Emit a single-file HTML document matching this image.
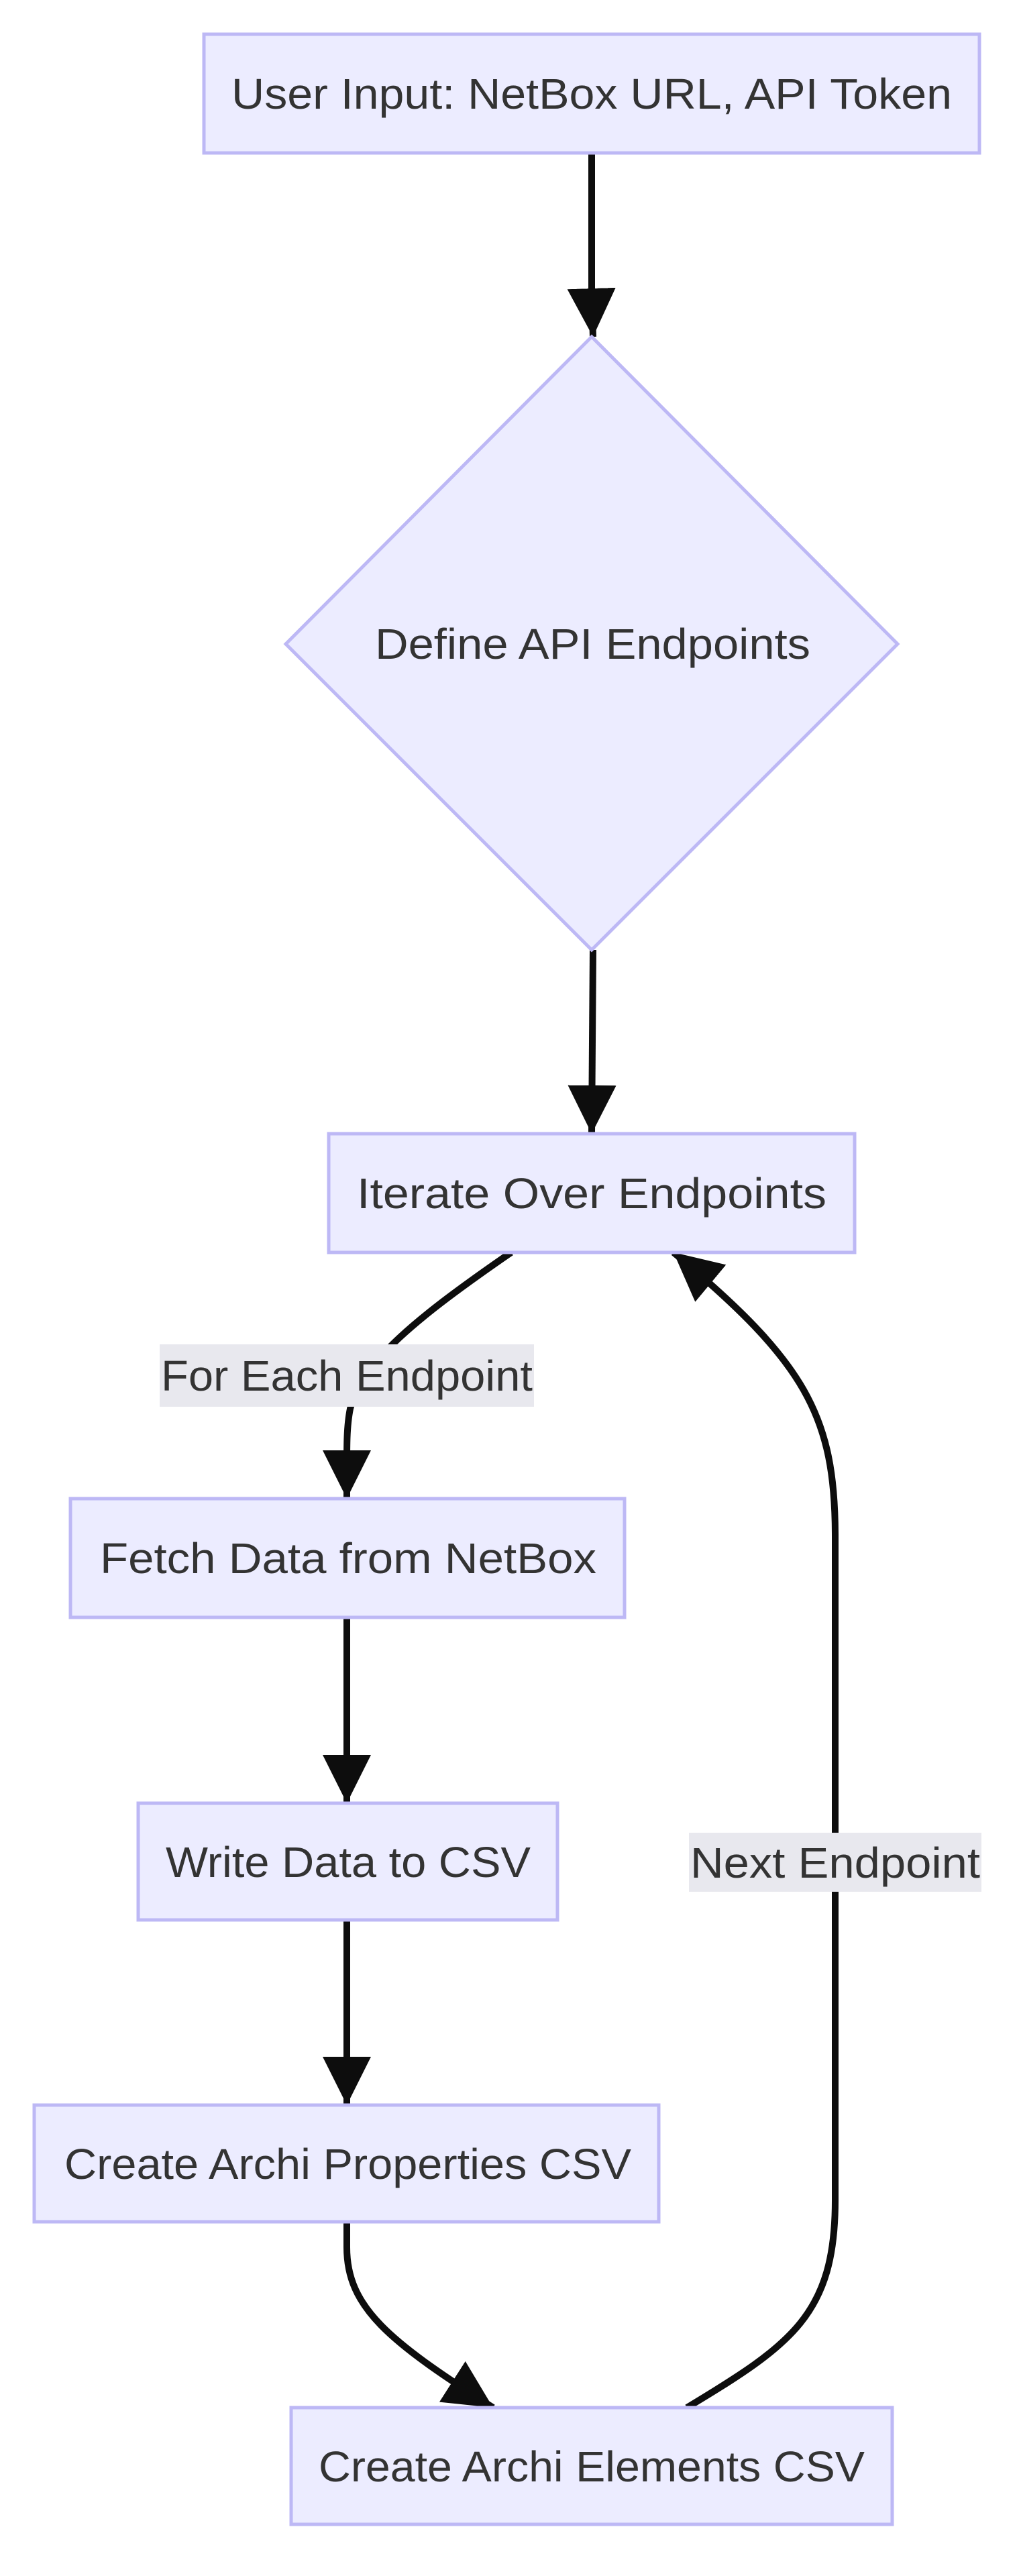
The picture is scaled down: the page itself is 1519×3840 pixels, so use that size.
<!DOCTYPE html>
<html><head><meta charset="utf-8"><style>
html,body{margin:0;padding:0;background:#fff;}
svg{display:block;}
text{font-family:"Liberation Sans",sans-serif;font-size:64px;fill:#333;}
</style></head><body>
<svg width="1519" height="3840" viewBox="0 0 1519 3840" xmlns="http://www.w3.org/2000/svg">
<defs>
<marker id="a" markerUnits="userSpaceOnUse" markerWidth="72" markerHeight="72" viewBox="0 0 10 10" refX="10" refY="5" orient="auto">
<path d="M0,0 L10,5 L0,10 z" fill="#0d0d0d"/>
</marker>
</defs>
<g fill="none" stroke="#0d0d0d" stroke-width="10">
<path d="M882,228 L882,440 L884,502" marker-end="url(#a)"/>
<path d="M884,1416 L882,1690" marker-end="url(#a)"/>
<path d="M762,1867 C620,1965 540,2030 522,2100 C516,2130 517,2160 517,2234" marker-end="url(#a)"/>
<path d="M517,2411 L517,2688" marker-end="url(#a)"/>
<path d="M517,2862 L517,3138" marker-end="url(#a)"/>
<path d="M517,3312 L517,3350 C517,3440 580,3490 735,3589" marker-end="url(#a)"/>
<path d="M1024,3589 C1180,3495 1245,3450 1245,3280 L1245,2290 C1245,2110 1200,2030 1004,1867" marker-end="url(#a)"/>
</g>
<g fill="#ececff" stroke="#bdb8f5" stroke-width="5">
<rect x="304" y="51" width="1156" height="177"/>
<polygon points="882,502 1338,960 882,1416 426,960"/>
<rect x="490" y="1690" width="784" height="177"/>
<rect x="105" y="2234" width="826" height="177"/>
<rect x="206" y="2688" width="625" height="174"/>
<rect x="51" y="3138" width="931" height="174"/>
<rect x="434" y="3589" width="896" height="174"/>
</g>
<rect x="238" y="2004" width="558" height="93" fill="#e8e8ee"/>
<rect x="1027" y="2732" width="436" height="88" fill="#e8e8ee"/>
<g dominant-baseline="central">
<text x="345" y="140" textLength="1074" lengthAdjust="spacingAndGlyphs">User Input: NetBox URL, API Token</text>
<text x="559" y="960" textLength="649" lengthAdjust="spacingAndGlyphs">Define API Endpoints</text>
<text x="532" y="1779" textLength="700" lengthAdjust="spacingAndGlyphs">Iterate Over Endpoints</text>
<text x="240" y="2051" textLength="554" lengthAdjust="spacingAndGlyphs">For Each Endpoint</text>
<text x="149" y="2323" textLength="740" lengthAdjust="spacingAndGlyphs">Fetch Data from NetBox</text>
<text x="247" y="2776" textLength="544" lengthAdjust="spacingAndGlyphs">Write Data to CSV</text>
<text x="1029" y="2777" textLength="432" lengthAdjust="spacingAndGlyphs">Next Endpoint</text>
<text x="96" y="3226" textLength="845" lengthAdjust="spacingAndGlyphs">Create Archi Properties CSV</text>
<text x="475" y="3677" textLength="814" lengthAdjust="spacingAndGlyphs">Create Archi Elements CSV</text>
</g>
</svg>
</body></html>
